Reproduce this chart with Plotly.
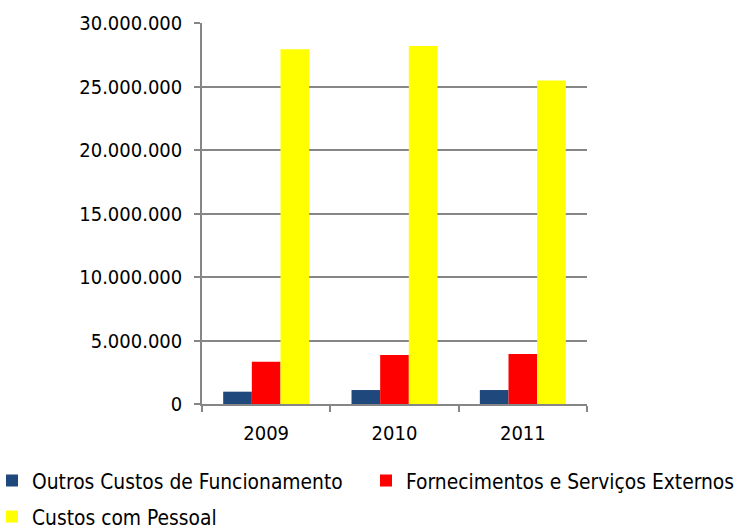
import plotly.graph_objects as go

years = ["2009", "2010", "2011"]
outros = [970000, 1100000, 1100000]
fornecimentos = [3330000, 3860000, 3930000]
pessoal = [27930000, 28190000, 25470000]

series_names = ["Outros Custos de Funcionamento", "Fornecimentos e Serviços Externos", "Custos com Pessoal"]
series_colors = ["#1F497D", "#FF0000", "#FFFF00"]
y_ticks = [0, 5000000, 10000000, 15000000, 20000000, 25000000, 30000000]

FONT = "DejaVu Sans Condensed, Liberation Sans, sans-serif"

W, H = 738, 532
PX0, PX1, PY0, PY1 = 202, 587, 23, 404
L, T = PX0, PY0
R = W - PX1
B = H - PY1
pw = W - L - R
ph = H - T - B

def px_to_paper_x(px):
    return (px - PX0) / pw

def px_to_paper_y(py):
    return (PY1 - py) / ph

fig = go.Figure()
legend_ids = ["legend", "legend2", "legend3"]
for name, vals, col, lg in zip(series_names, [outros, fornecimentos, pessoal], series_colors, legend_ids):
    fig.add_trace(go.Bar(x=years, y=vals, name=name, marker=dict(color=col, line=dict(width=0)),
                         legend=lg, showlegend=True))

leg_common = dict(font=dict(family=FONT, size=20.8, color="#000000"), bgcolor="rgba(0,0,0,0)",
                  borderwidth=0, orientation="h", xanchor="left", yanchor="middle", visible=True)

fig.update_layout(
    width=W, height=H,
    showlegend=True,
    margin=dict(l=L, r=R, t=T, b=B, autoexpand=False),
    paper_bgcolor="#FFFFFF", plot_bgcolor="#FFFFFF",
    separators=",.",
    barmode="group", bargap=0.33, bargroupgap=0,
    font=dict(family=FONT, size=20, color="#000000"),
    legend=dict(x=px_to_paper_x(-8), y=px_to_paper_y(481), **leg_common),
    legend2=dict(x=px_to_paper_x(366), y=px_to_paper_y(481), **leg_common),
    legend3=dict(x=px_to_paper_x(-8), y=px_to_paper_y(517), **leg_common),
    xaxis=dict(type="category", showline=True, linecolor="#868686", linewidth=1.5,
               ticks="outside", tickson="boundaries", ticklen=6, tickcolor="#868686", tickwidth=1.5,
               showgrid=False, tickfont=dict(family=FONT, size=20, color="#000000"),
               ticklabelstandoff=10),
    yaxis=dict(range=[0, 30000000], tickvals=y_ticks, tickformat=",d",
               showline=True, linecolor="#868686", linewidth=1.5,
               ticks="outside", ticklen=6, tickcolor="#868686", tickwidth=1.5,
               showgrid=True, gridcolor="#868686", gridwidth=1.5, zeroline=False,
               tickfont=dict(family=FONT, size=20, color="#000000"),
               ticklabelstandoff=8),
)

fig.write_html("out.html", config={"displayModeBar": False},
               post_script="document.body.style.margin='0';")
